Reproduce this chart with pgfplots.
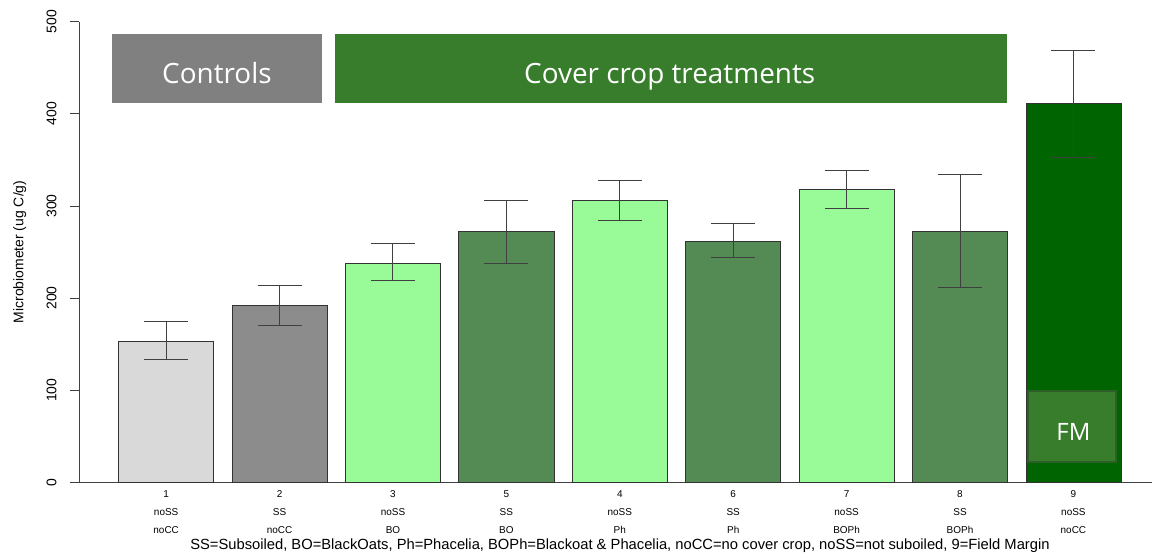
\documentclass[border=0pt]{standalone}
\usepackage{fontspec}
\setmainfont{Liberation Sans}
\newfontfamily\osans{Open Sans}
\usepackage{pgfplots}
\pgfplotsset{compat=1.18}
\usetikzlibrary{calc}
\definecolor{cgrayA}{HTML}{D9D9D9}
\definecolor{cgrayB}{HTML}{8C8C8C}
\definecolor{cpale}{HTML}{98FB98}
\definecolor{cmid}{HTML}{548B54}
\definecolor{cdark}{HTML}{006400}
\definecolor{cbox}{HTML}{377D2C}
\definecolor{cboxgray}{HTML}{808080}
\definecolor{cfmedge}{HTML}{2D5F28}
\begin{document}
\begin{tikzpicture}
\begin{axis}[
  name=ax,
  scale only axis,
  width=1072.7bp, height=460.6bp,
  xmin=-0.766, xmax=8.693,
  ymin=0, ymax=500,
  enlargelimits=false,
  axis x line=bottom, axis y line=left,
  axis line style={-, draw=black!75, line width=0.8bp},
  /pgf/number format/assume math mode=true,
  ytick={0,100,200,300,400,500},
  tick align=outside,
  major tick length=9bp,
  ytick style={draw=black!75, line width=0.8bp},
  yticklabel style={rotate=90, anchor=south, inner sep=0pt, font=\fontsize{14}{14}\selectfont},
  yticklabel shift=13.6bp,
  xtick={0,1,2,3,4,5,6,7,8},
  xtick style={draw=none},
  xticklabels={{1\\noSS\\noCC},{2\\SS\\noCC},{3\\noSS\\BO},{5\\SS\\BO},{4\\noSS\\Ph},{6\\SS\\Ph},{7\\noSS\\BOPh},{8\\SS\\BOPh},{9\\noSS\\noCC}},
  xticklabel style={align=center, anchor=north, inner sep=0pt, font=\fontsize{10}{18}\selectfont, yshift=0.5bp},
  xlabel={SS=Subsoiled, BO=BlackOats, Ph=Phacelia, BOPh=Blackoat \& Phacelia, noCC=no cover crop, noSS=not suboiled, 9=Field Margin},
  every axis x label/.style={at={(axis description cs:0.504,-0.1455)}, anchor=base, font=\fontsize{14.8}{14.8}\selectfont},
  ylabel={Microbiometer (ug C/g)},
  every axis y label/.style={at={(axis description cs:-0.0556,0.5)}, rotate=90, anchor=center, font=\fontsize{14}{14}\selectfont},
  error bars/y dir=both,
  error bars/y explicit,
  error bars/error bar style={draw=black!75, line width=1bp},
  error bars/error mark options={rotate=90, draw=black!75, line width=1bp, mark size=22bp},
  clip=false,
]
\addplot[ybar, bar shift=0pt, bar width=0.838, fill=cgrayA, draw=black!80, line width=0.8bp] coordinates {(0,153.4) += (0,21.4) -= (0,20.6)};
\addplot[ybar, bar shift=0pt, bar width=0.838, fill=cgrayB, draw=black!80, line width=0.8bp] coordinates {(1,191.7) += (0,21.7) -= (0,21.3)};
\addplot[ybar, bar shift=0pt, bar width=0.838, fill=cpale, draw=black!80, line width=0.8bp] coordinates {(2,238.0) += (0,21.0) -= (0,19.1)};
\addplot[ybar, bar shift=0pt, bar width=0.838, fill=cmid, draw=black!80, line width=0.8bp] coordinates {(3,272.8) += (0,33.2) -= (0,35.1)};
\addplot[ybar, bar shift=0pt, bar width=0.838, fill=cpale, draw=black!80, line width=0.8bp] coordinates {(4,306.0) += (0,22.0) -= (0,21.3)};
\addplot[ybar, bar shift=0pt, bar width=0.838, fill=cmid, draw=black!80, line width=0.8bp] coordinates {(5,262.0) += (0,19.0) -= (0,18.5)};
\addplot[ybar, bar shift=0pt, bar width=0.838, fill=cpale, draw=black!80, line width=0.8bp] coordinates {(6,317.6) += (0,20.4) -= (0,20.9)};
\addplot[ybar, bar shift=0pt, bar width=0.838, fill=cmid, draw=black!80, line width=0.8bp] coordinates {(7,272.5) += (0,61.5) -= (0,60.5)};
\addplot[ybar, bar shift=0pt, bar width=0.838, fill=cdark, draw=black!80, line width=0.8bp] coordinates {(8,411.4) += (0,57.6) -= (0,59.0)};
\fill[cboxgray] (axis cs:-0.478,411.4) rectangle (axis cs:1.374,486.7);
\fill[cbox] (axis cs:1.489,411.4) rectangle (axis cs:7.412,486.7);
\filldraw[fill=cbox, draw=cfmedge, line width=2bp] (axis cs:7.603,22) rectangle (axis cs:8.379,99.5);
\node[text=white, anchor=base, font=\osans\fontsize{28}{28}\selectfont] at (axis cs:0.448,433.1) {Controls};
\node[text=white, anchor=base, font=\osans\fontsize{28}{28}\selectfont] at (axis cs:4.44,433.1) {Cover crop treatments};
\node[text=white, anchor=base, font=\osans\fontsize{24}{24}\selectfont] at (axis cs:8.0,45.2) {FM};
\end{axis}
\pgfresetboundingbox
\path[use as bounding box] ($(ax.south west)+(-79.3bp,-71.7bp)$) rectangle ($(ax.north east)+(2bp,21.7bp)$);
\end{tikzpicture}
\end{document}
